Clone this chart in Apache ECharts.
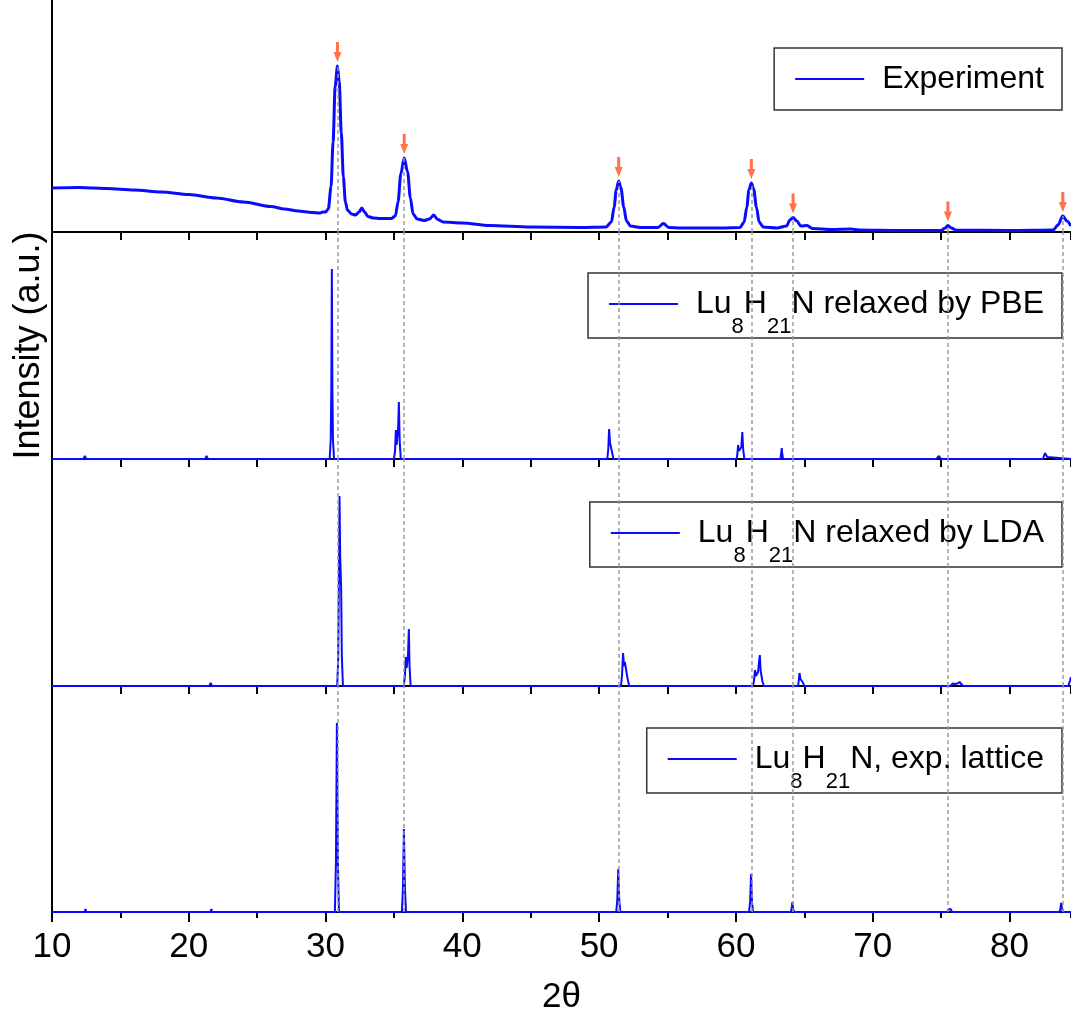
<!DOCTYPE html>
<html><head><meta charset="utf-8">
<script src="https://cdn.jsdelivr.net/npm/echarts@6/dist/echarts.min.js"></script>
<style>html,body{margin:0;padding:0;background:#fff}#c{width:1071px;height:1016px}</style>
</head><body><div id="c"></div>
<script>
// ---- data (x = 2θ in degrees, y = intensity in arbitrary units) ----
const experiment = [[10,44],[12,44.5],[13,44],[14,43.5],[16,42],[18,40],[20,37.5],[22,34],[24,30],[26,25.5],[27,23],[28,21],[29,19.5],[29.6,19],[29.8,20],[30.0,20],[30.2,23],[30.4,45],[30.55,90],[30.7,145],[30.87,166],[31.0,150],[31.15,100],[31.3,55],[31.45,30],[31.6,22],[31.9,18],[32.2,17],[32.45,20],[32.65,24],[32.85,20],[33.1,15.5],[33.5,14],[34,13.5],[34.8,13.5],[35.1,16],[35.3,30],[35.5,58],[35.75,74],[36.0,60],[36.2,34],[36.4,18],[36.7,13],[37.2,11.5],[37.6,13],[37.9,17],[38.2,12.5],[38.6,10],[40,9],[42,6.5],[45,5],[48.6,4.5],[50.5,5],[50.9,10],[51.1,25],[51.25,42],[51.43,51],[51.6,44],[51.8,25],[52.0,11],[52.3,6],[53,4.5],[54.3,4.5],[54.7,8.5],[55.1,4.5],[56,4],[59,4],[60.3,4.5],[60.6,10],[60.8,25],[60.95,42],[61.13,49],[61.3,43],[61.5,25],[61.7,10],[62,5],[63,4],[63.7,6],[63.95,12],[64.18,14.5],[64.45,11],[64.75,6],[65.2,6.5],[65.6,3.5],[67,2.5],[68.4,3],[69,2],[72,1.5],[75,1.5],[75.3,4],[75.5,6.5],[75.75,4],[76.1,1.8],[80,1.5],[83.2,2],[83.55,7],[83.9,16],[84.2,11],[84.5,6]];
const pbe = [[10,0],[12.3,0],[12.4,3],[12.5,0],[21.2,0],[21.3,3],[21.4,0],[30.3,0],[30.38,20],[30.42,70],[30.46,190],[30.5,70],[30.54,20],[30.62,0],[35.0,0],[35.08,8],[35.14,29],[35.2,14],[35.26,16],[35.31,32],[35.36,57],[35.42,18],[35.5,0],[50.6,0],[50.67,10],[50.73,30],[50.8,16],[50.86,14],[50.9,16],[50.96,6],[51.05,0],[60.05,0],[60.11,5],[60.16,14],[60.22,8],[60.3,6],[60.4,12],[60.47,27],[60.53,10],[60.62,0],[63.25,0],[63.3,4],[63.35,11],[63.4,4],[63.46,0],[74.65,0],[74.75,2],[74.82,3],[74.9,2],[75.0,0],[82.45,0],[82.52,3],[82.6,6],[82.68,4],[82.76,2],[82.85,0],[84.5,0]];
const lda = [[10,0],[21.5,0],[21.6,3],[21.7,0],[30.85,0],[30.92,25],[30.97,100],[31.02,190],[31.07,130],[31.14,98],[31.19,30],[31.27,0],[35.72,0],[35.8,10],[35.87,29],[35.93,18],[35.98,16],[36.03,32],[36.09,57],[36.14,20],[36.22,0],[51.6,0],[51.68,12],[51.75,33],[51.82,20],[51.88,24],[51.94,26],[52.0,14],[52.06,9],[52.12,5],[52.2,0],[61.25,0],[61.33,6],[61.4,16],[61.47,10],[61.55,12],[61.62,14],[61.69,24],[61.75,31],[61.81,15],[61.88,14],[61.95,4],[62.05,0],[64.55,0],[64.6,6],[64.65,13],[64.72,7],[64.8,6],[64.85,7],[64.92,3],[65.0,0],[75.7,0],[75.85,2.5],[76.0,2],[76.2,2.5],[76.35,4],[76.45,2],[76.6,0],[84.3,0],[84.42,5],[84.5,9]];
const expLattice = [[10,0],[12.4,0],[12.45,3],[12.5,0],[21.6,0],[21.65,3],[21.7,0],[30.68,0],[30.76,50],[30.83,189],[30.9,50],[30.98,0],[35.58,0],[35.66,25],[35.73,83],[35.8,25],[35.88,0],[51.25,0],[51.33,12],[51.4,43],[51.47,12],[51.55,0],[60.96,0],[61.04,10],[61.11,38],[61.18,10],[61.26,0],[64.0,0],[64.07,3],[64.13,10],[64.19,3],[64.26,0],[75.45,0],[75.55,2.5],[75.62,3.5],[75.7,3],[75.8,0],[83.65,0],[83.72,3],[83.78,9],[83.85,3],[83.93,0],[84.5,0]];
// experimental peak positions (arrows + dashed guide lines) and their heights
const peakX = [30.87, 35.75, 51.43, 61.13, 64.18, 75.5, 83.9];
const peakY = [166, 74, 51, 49, 14.5, 6.5, 16];
const seriesNames = ['Experiment', 'PBE', 'LDA', 'Lattice'];
const legendLabels = {
  'Experiment': '{n|Experiment}',
  'PBE': '{n|Lu}{s|8}{n|H}{s|21}{n|N relaxed by PBE}',
  'LDA': '{n|Lu}{s|8}{n|H}{s|21}{n|N relaxed by LDA}',
  'Lattice': '{n|Lu}{s|8}{n|H}{s|21}{n|N, exp. lattice}'
};
const xMin = 10, xMax = 84.5;

// ---- layout ----
const FONT = 'Liberation Sans, Arial, Helvetica, sans-serif';
const BLUE = '#0a0aff';
const grids = [
  {left: 52, right: 0, top: 0, height: 232},
  {left: 52, right: 0, top: 232, height: 227},
  {left: 52, right: 0, top: 459, height: 227},
  {left: 52, right: 0, top: 686, height: 226}
];
const yMaxes = [232, 227, 227, 226];
const legendTops = [48, 273, 502, 728];

const axisLine = {show: true, lineStyle: {color: '#000', width: 2}};
const xAxes = grids.map((g, i) => ({
  type: 'value', gridIndex: i, min: xMin, max: xMax,
  interval: i === 3 ? 10 : 5,
  axisLine: axisLine,
  axisTick: {show: true, inside: false, length: i === 3 ? 10 : 8, lineStyle: {color: '#000', width: 2}},
  axisLabel: i === 3 ? {
    show: true, fontSize: 35, color: '#000', fontFamily: FONT, margin: 18,
    showMaxLabel: false,
    formatter: v => (v % 10 === 0 ? String(v) : '')
  } : {show: false},
  splitLine: {show: false},
  name: i === 3 ? '2θ' : '',
  nameLocation: 'middle', nameGap: 68,
  nameTextStyle: {fontSize: 35, color: '#000', fontFamily: FONT}
}));
// minor ticks on bottom axis
xAxes.push({
  type: 'value', gridIndex: 3, min: xMin, max: xMax, interval: 5, position: 'bottom',
  axisLine: {show: false},
  axisTick: {show: true, inside: false, length: 6, lineStyle: {color: '#000', width: 2}},
  axisLabel: {show: false}, splitLine: {show: false}
});
const yAxes = grids.map((g, i) => ({
  type: 'value', gridIndex: i, min: 0, max: yMaxes[i],
  axisLine: axisLine, axisTick: {show: false}, axisLabel: {show: false}, splitLine: {show: false},
  name: i === 1 ? 'Intensity (a.u.)' : '',
  nameLocation: 'middle', nameGap: 5,
  nameTextStyle: {fontSize: 36, color: '#000', fontFamily: FONT}
}));

const dashStyle = {color: '#9a9a9a', width: 1.5, type: [4, 3]};
const series = [];
// dashed guide lines (behind curves)
grids.forEach((g, i) => {
  series.push({
    type: 'line', xAxisIndex: i, yAxisIndex: i, data: [[xMin, 0]], showSymbol: false,
    lineStyle: {width: 0, opacity: 0}, silent: true, z: 1,
    markLine: {
      silent: true, symbol: ['none', 'none'], label: {show: false},
      lineStyle: dashStyle, animation: false,
      data: i === 0
        ? peakX.map((x, k) => [{coord: [x, 0]}, {coord: [x, peakY[k]]}])
        : peakX.map(x => ({xAxis: x}))
    }
  });
});
const datasets = [experiment, pbe, lda, expLattice];
datasets.forEach((d, i) => {
  series.push({
    name: seriesNames[i], type: 'line', xAxisIndex: i, yAxisIndex: i, data: d,
    showSymbol: false, symbol: 'none', z: 3,
    smooth: i === 0 ? 0.3 : false, smoothMonotone: i === 0 ? 'x' : undefined,
    lineStyle: {color: BLUE, width: i === 0 ? 3 : 2},
    itemStyle: {color: BLUE}
  });
});
// arrows above experimental peaks
series.push({
  type: 'scatter', xAxisIndex: 0, yAxisIndex: 0, z: 5, silent: true,
  data: peakX.map((x, k) => [x, peakY[k]]),
  symbol: 'path://M2.5,0 L5.5,0 L5.5,10 L8,10 L4,20 L0,10 L2.5,10 Z',
  symbolSize: [8, 20], symbolOffset: [0, -14],
  itemStyle: {color: '#ff4f1f'}
});

const legends = seriesNames.map((n, i) => ({
  data: [n], right: 9, top: legendTops[i], orient: 'horizontal',
  icon: 'rect', itemWidth: 69, itemHeight: 2,
  backgroundColor: '#fff', borderColor: '#333', borderWidth: 1.5, borderRadius: 0,
  padding: i === 0 ? [15, 18, 15, 21] : [15, 18, 0, 21],
  selectedMode: false,
  formatter: name => legendLabels[name],
  textStyle: {
    color: '#000', fontFamily: FONT, fontSize: 32, padding: [0, 0, 0, 13],
    rich: {
      n: {fontSize: 32, fontFamily: FONT, color: '#000'},
      // subscript: shifted down by half its top padding; negative inner height keeps the line box compact
      s: {fontSize: 22, height: -26, fontFamily: FONT, color: '#000', padding: [46, 0, 0, 0]}
    }
  }
}));

const chart = echarts.init(document.getElementById('c'), null, {renderer: 'canvas'});
chart.setOption({
  animation: false,
  backgroundColor: '#fff',
  grid: grids,
  xAxis: xAxes,
  yAxis: yAxes,
  legend: legends,
  series: series
});
</script>
</body></html>
